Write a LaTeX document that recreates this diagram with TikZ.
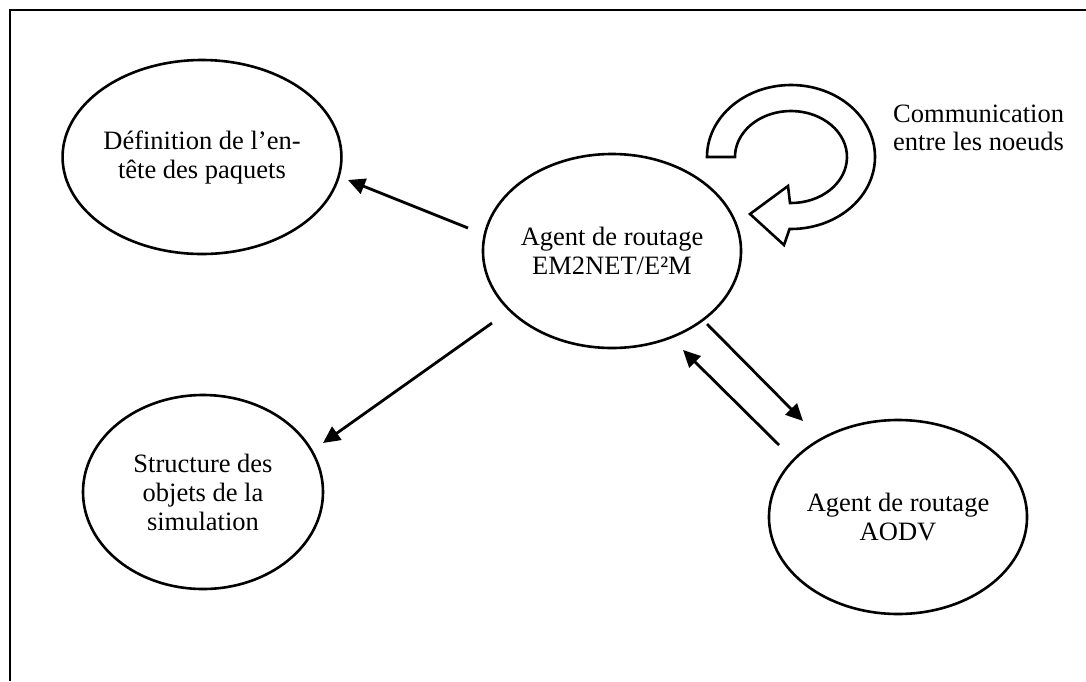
\documentclass[tikz,border=0pt]{standalone}
\usepackage{fontspec}
\setmainfont{Liberation Serif}
\usetikzlibrary{shapes.geometric,arrows.meta,calc}

\begin{document}
\begin{tikzpicture}[x=1pt,y=-1pt,
  bubble/.style={draw, line width=2.6pt, ellipse, inner sep=0pt,
    minimum width=240pt, minimum height=194pt, align=center,
    font=\fontsize{26.5}{29}\selectfont},
  link/.style={line width=2.8pt, -{Triangle[length=17pt,width=16pt]}},
  caption/.style={align=left, anchor=west, inner sep=0pt,
    font=\fontsize{26.5}{28}\selectfont}]
  \useasboundingbox (0,0) rectangle (1086,681);

  % frame (top and left edges)
  \draw[line width=2.4pt] (1086,10) -- (10,10) -- (10,681);

  % modules
  \node[bubble] (hdr)  at (202,157) {Définition de l’en-\\tête des paquets};
  \node[bubble] (agent) at (612,251) {Agent de routage\\EM2NET/E²M};
  \node[bubble] (objs) at (203,492) {Structure des\\objets de la\\simulation};
  \node[bubble] (aodv) at (898,517) {Agent de routage\\AODV};

  % dependencies
  \draw[link] ($(agent)+(-144,-23)$) -- ($(hdr)+(146,23)$);
  \draw[link] ($(agent)+(-120,72)$) -- ($(objs)+(120,-49)$);
  \draw[link] ($(agent)+(95,73)$) -- ($(aodv)+(-95,-96)$);
  \draw[link] ($(aodv)+(-119,-72)$) -- ($(agent)+(71,99)$);

  % self-communication loop arrow
  \draw[line width=2.6pt, line join=miter]
    (707,157) arc[start angle=180, end angle=451, x radius=84, y radius=72]
    -- (784,245) -- (750,214) -- (788,186) -- (790,203)
    arc[start angle=451, end angle=180, x radius=56, y radius=46]
    -- cycle;

  \node[caption] (comm) at (893,128) {Communication\\entre les noeuds};
\end{tikzpicture}
\end{document}
